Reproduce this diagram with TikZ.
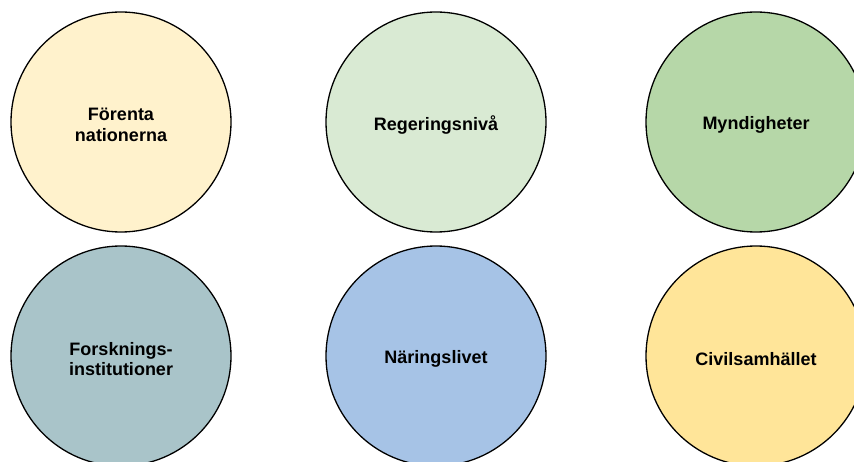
\documentclass[tikz,border=0pt]{standalone}
\usepackage{fontspec}
\setmainfont{Liberation Sans}
\definecolor{cFN}{HTML}{FFF2CC}
\definecolor{cReg}{HTML}{D9EAD3}
\definecolor{cMyn}{HTML}{B6D7A8}
\definecolor{cFor}{HTML}{A9C4C9}
\definecolor{cNar}{HTML}{A6C3E6}
\definecolor{cCiv}{HTML}{FFE599}
\tikzset{
  actor/.style={circle, draw=black, line width=1.3pt, minimum size=220pt, inner sep=0pt},
  lbl/.style={align=center, inner sep=0pt, font=\fontsize{18}{20.5}\selectfont\bfseries, text=black}
}
\begin{document}
\begin{tikzpicture}[x=1pt,y=-1pt]
\useasboundingbox (0,0) rectangle (854,462);
\begin{scope}
\clip (0,0) rectangle (854,462);
\node[actor, fill=cFN] (fn) at (121,122) {};
\node[actor, fill=cReg] (reg) at (436,122) {};
\node[actor, fill=cMyn] (myn) at (756,122) {};
\node[actor, fill=cFor] (for) at (121,356) {};
\node[actor, fill=cNar] (nar) at (436,356) {};
\node[actor, fill=cCiv] (civ) at (756,356) {};
\end{scope}
\node[lbl] (fnt) at ([yshift=-3pt]fn.center) {Förenta\\nationerna};
\node[lbl] (regt) at ([yshift=-3pt]reg.center) {Regeringsnivå};
\node[lbl] (mynt) at ([yshift=-3pt]myn.center) {Myndigheter};
\node[lbl] (fort) at ([yshift=-3pt]for.center) {Forsknings-\\institutioner};
\node[lbl] (nart) at ([yshift=-3pt]nar.center) {Näringslivet};
\node[lbl] (civt) at ([yshift=-3pt]civ.center) {Civilsamhället};
\end{tikzpicture}
\end{document}
